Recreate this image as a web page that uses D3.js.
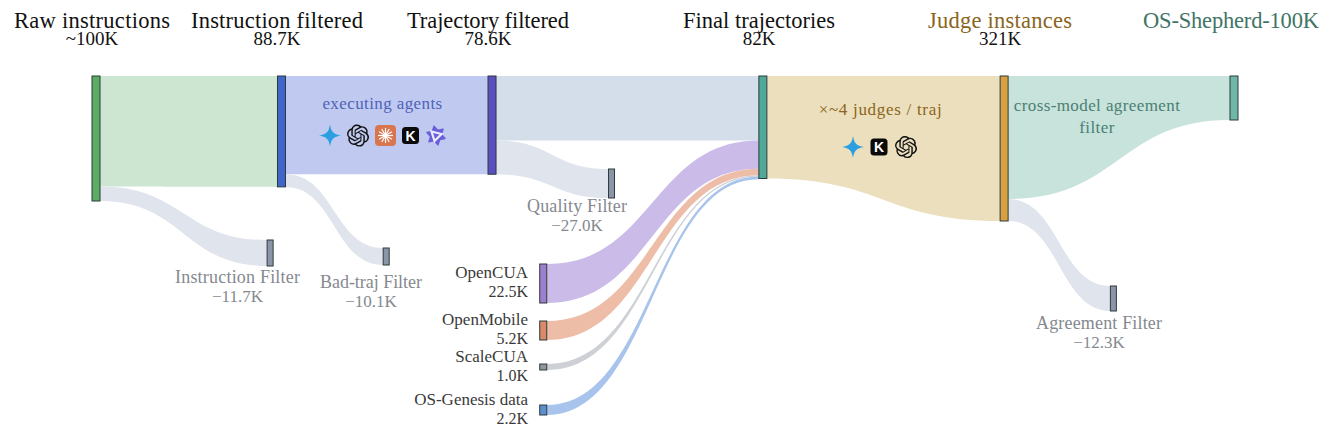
<!DOCTYPE html>
<html>
<head>
<meta charset="utf-8">
<script src="https://cdn.jsdelivr.net/npm/d3@7"></script>
<style>
body { margin: 0; background: #fff; }
text { font-family: "Liberation Serif", serif; }
</style>
</head>
<body>
<div id="canvas"></div>
<script>
// main stages, sizes in K (judge and shepherd are drawn on a squeezed scale like the original)
const stageNames = ["Raw instructions", "Instruction filtered", "Trajectory filtered", "Final trajectories", "Judge instances", "OS-Shepherd-100K"];
const stageCounts = ["~100K", "88.7K", "78.6K", "82K", "321K", ""];
const stageSizes = [100, 88.7, 78.6, 82, 116, 35.2];
const stagePos = [0, 16.3, 34.8, 58.6, 79.8, 100];

// filter drop-offs
const filterNames = ["Instruction Filter", "Bad-traj Filter", "Quality Filter", "Agreement Filter"];
const filterCounts = ["−11.7K", "−10.1K", "−27.0K", "−12.3K"];
const filterFrom = [0, 1, 2, 4];
const filterOut = [11.7, 10.1, 27, 17.6];
const filterSizes = [20.8, 13.6, 23.2, 20];
const filterTops = [131.2, 137.6, 74.4, 168];
const filterPos = [15.3, 25.5, 45.3, 89.4];

// extra data sources feeding final trajectories
const sourceNames = ["OpenCUA", "OpenMobile", "ScaleCUA", "OS-Genesis data"];
const sourceCounts = ["22.5K", "5.2K", "1.0K", "2.2K"];
const sourceValues = [22.5, 5.2, 1.0, 2.2];
const sourceSizes = [31.2, 15.2, 4.8, 8];
const sourceTops = [150.4, 196, 230.4, 263.2];
const sourcePos = 39.3;

const stageColors = ["#5aad62", "#3f66c8", "#5a4fc0", "#4fa898", "#d9a03f", "#6fb8a8"];
const stageLinks = ["#cce6d2", "#c0caf0", "#d4deeb", "#ecdfbd", "#c8e2dc"];
const sourceColors = ["#9b80cf", "#d98a68", "#8f959c", "#5b8fd0"];
const sourceLinks = ["#cbbbe9", "#edbda8", "#cdd0d4", "#a8c4ec"];
const filterColor = "#8a96a8";
const filterLink = "#e0e4ec";

const width = 1326;
const height = 428;
const nodeW = 8;
const smallW = 6;

const svg = d3.select("#canvas").append("svg")
    .attr("width", width)
    .attr("height", height)
    .style("display", "block");

const x = d3.scaleLinear().domain([0, 100]).range([96, 1234]);
const y = d3.scaleLinear().domain([0, 100]).range([76, 201]);
const h = d3.scaleLinear().domain([0, 100]).range([0, 125]);

// ribbon between two vertical edges
function ribbon(x0, t0, b0, x1, t1, b1) {
    const m = (x0 + x1) / 2;
    return `M${x0},${t0}C${m},${t0} ${m},${t1} ${x1},${t1}L${x1},${b1}C${m},${b1} ${m},${b0} ${x0},${b0}Z`;
}

const links = svg.append("g");
const nodes = svg.append("g");
const labels = svg.append("g");

function addLink(d, fill) {
    links.append("path").attr("d", d).attr("fill", fill);
}
function addNode(cx, top, size, w, fill) {
    nodes.append("rect")
        .attr("x", cx - w / 2)
        .attr("y", y(top))
        .attr("width", w)
        .attr("height", h(size))
        .attr("fill", fill)
        .attr("stroke", "#2f3a3a")
        .attr("stroke-width", 1);
}

// stage to stage ribbons, the one into final trajectories only keeps what survived the filter
stageSizes.slice(0, -1).forEach((s, i) => {
    const x0 = x(stagePos[i]) + nodeW / 2;
    const x1 = x(stagePos[i + 1]) - nodeW / 2;
    let leave = s;
    filterFrom.forEach((f, k) => { if (f === i) leave = s - filterOut[k]; });
    if (i === 3) leave = s;
    let arrive = stageSizes[i + 1];
    if (i === 2) arrive = leave;
    addLink(ribbon(x0, y(0), y(leave), x1, y(0), y(arrive)), stageLinks[i]);
});

// filter ribbons
filterFrom.forEach((f, i) => {
    const cx = x(filterPos[i]);
    const bottom = stageSizes[f];
    addLink(ribbon(x(stagePos[f]) + nodeW / 2, y(bottom - filterOut[i]), y(bottom),
        cx - smallW / 2, y(filterTops[i]), y(filterTops[i] + filterSizes[i])), filterLink);
    addNode(cx, filterTops[i], filterSizes[i], smallW, filterColor);
});

// source ribbons stack under the trajectory ribbon on final trajectories
let stack = stageSizes[2] - filterOut[2];
sourceValues.forEach((v, i) => {
    const cx = x(sourcePos);
    addLink(ribbon(cx + 3.5, y(sourceTops[i]), y(sourceTops[i] + sourceSizes[i]),
        x(stagePos[3]) - nodeW / 2, y(stack), y(stack + v)), sourceLinks[i]);
    addNode(cx, sourceTops[i], sourceSizes[i], 7, sourceColors[i]);
    stack += v;
});

stageSizes.forEach((s, i) => addNode(x(stagePos[i]), 0, s, nodeW, stageColors[i]));

// headers
const headColors = ["#111", "#111", "#111", "#111", "#8a6420", "#3f7466"];
const headX = [92, 277, 488, 759, 1000, 1231];
const headW = [156, 172, 162, 152, 144, 176];
stageNames.forEach((n, i) => {
    labels.append("text").attr("x", headX[i]).attr("y", 28)
        .attr("text-anchor", "middle").attr("font-size", 22.5).attr("textLength", headW[i])
        .attr("fill", headColors[i]).text(n);
    labels.append("text").attr("x", headX[i]).attr("y", 45)
        .attr("text-anchor", "middle").attr("font-size", 19).attr("fill", "#111").text(stageCounts[i]);
});

// filter captions
const filterLabelX = [237.5, 371, 577, 1099];
const filterLabelY = [283, 288, 212, 329];
const filterLabelW = [125, 102, 100, 126];
filterNames.forEach((n, i) => {
    labels.append("text").attr("x", filterLabelX[i]).attr("y", filterLabelY[i])
        .attr("text-anchor", "middle").attr("font-size", 18).attr("textLength", filterLabelW[i])
        .attr("fill", "#85898f").text(n);
    labels.append("text").attr("x", filterLabelX[i]).attr("y", filterLabelY[i] + 19)
        .attr("text-anchor", "middle").attr("font-size", 17).attr("fill", "#85898f").text(filterCounts[i]);
});

// source captions
const sourceLabelY = [278, 325, 362, 405];
sourceNames.forEach((n, i) => {
    labels.append("text").attr("x", 528).attr("y", sourceLabelY[i])
        .attr("text-anchor", "end").attr("font-size", 17).attr("fill", "#3a3a3a").text(n);
    labels.append("text").attr("x", 528).attr("y", sourceLabelY[i] + 19)
        .attr("text-anchor", "end").attr("font-size", 16).attr("fill", "#3a3a3a").text(sourceCounts[i]);
});

// text on the ribbons
function note(t, px, py, fill, spacing) {
    labels.append("text").attr("x", px).attr("y", py)
        .attr("text-anchor", "middle").attr("font-size", 17).attr("letter-spacing", spacing)
        .attr("fill", fill).text(t);
}
note("executing agents", 382.5, 109, "#4f62b8", 0.4);
note("×~4 judges / traj", 880.5, 115, "#8a6420", 0.7);
note("cross-model agreement", 1097, 111, "#4a8072", 0.4);
note("filter", 1097, 133, "#4a8072", 0.4);

// model logos
const icons = svg.append("g");
const openaiPath = "M22.2819 9.8211a5.9847 5.9847 0 0 0-.5157-4.9108 6.0462 6.0462 0 0 0-6.5098-2.9A6.0651 6.0651 0 0 0 4.9807 4.1818a5.9847 5.9847 0 0 0-3.9977 2.9 6.0462 6.0462 0 0 0 .7427 7.0966 5.98 5.98 0 0 0 .511 4.9107 6.051 6.051 0 0 0 6.5146 2.9001A5.9847 5.9847 0 0 0 13.2599 24a6.0557 6.0557 0 0 0 5.7718-4.2058 5.9894 5.9894 0 0 0 3.9977-2.9001 6.0557 6.0557 0 0 0-.7475-7.0729zm-9.022 12.6081a4.4755 4.4755 0 0 1-2.8764-1.0408l.1419-.0804 4.7783-2.7582a.7948.7948 0 0 0 .3927-.6813v-6.7369l2.02 1.1686a.071.071 0 0 1 .038.052v5.5826a4.504 4.504 0 0 1-4.4945 4.4944zm-9.6607-4.1254a4.4708 4.4708 0 0 1-.5346-3.0137l.142.0852 4.783 2.7582a.7712.7712 0 0 0 .7806 0l5.8428-3.3685v2.3324a.0804.0804 0 0 1-.0332.0615L9.74 19.9502a4.4992 4.4992 0 0 1-6.1408-1.6464zM2.3408 7.8956a4.485 4.485 0 0 1 2.3655-1.9728V11.6a.7664.7664 0 0 0 .3879.6765l5.8144 3.3543-2.0201 1.1685a.0757.0757 0 0 1-.071 0l-4.8303-2.7865A4.504 4.504 0 0 1 2.3408 7.872zm16.5963 3.8558L13.1038 8.364 15.1192 7.2a.0757.0757 0 0 1 .071 0l4.8303 2.7913a4.4944 4.4944 0 0 1-.6765 8.1042v-5.6772a.79.79 0 0 0-.407-.667zm2.0107-3.0231l-.142-.0852-4.7735-2.7818a.7759.7759 0 0 0-.7854 0L9.409 9.2297V6.8974a.0662.0662 0 0 1 .0284-.0615l4.8303-2.7866a4.4992 4.4992 0 0 1 6.6802 4.66zM8.3065 12.863l-2.02-1.1638a.0804.0804 0 0 1-.038-.0567V6.0742a4.4992 4.4992 0 0 1 7.3757-3.4537l-.142.0805L8.704 5.459a.7948.7948 0 0 0-.3927.6813zm1.0976-2.3654l2.602-1.4998 2.6069 1.4998v2.9994l-2.5974 1.4997-2.6067-1.4997Z";

function gemini(g) {
    g.append("path").attr("d", "M0,-11C1.2,-3.5 3.5,-1.2 11,0C3.5,1.2 1.2,3.5 0,11C-1.2,3.5 -3.5,1.2 -11,0C-3.5,-1.2 -1.2,-3.5 0,-11Z").attr("fill", "#2b9fe0");
}
function openai(g) {
    g.append("path").attr("d", openaiPath).attr("transform", "translate(-11,-11) scale(0.92)").attr("fill", "#111");
}
function claude(g) {
    g.append("rect").attr("x", -10.5).attr("y", -10.5).attr("width", 21).attr("height", 21).attr("rx", 4).attr("fill", "#d9764f");
    d3.range(12).forEach(i => {
        const a = i * Math.PI / 6;
        g.append("line").attr("x1", 0).attr("y1", 0)
            .attr("x2", 7.5 * Math.cos(a)).attr("y2", 7.5 * Math.sin(a))
            .attr("stroke", "#fff").attr("stroke-width", 1.2);
    });
}
function kimi(g) {
    g.append("rect").attr("x", -8.5).attr("y", -8.5).attr("width", 17).attr("height", 17).attr("rx", 3.5).attr("fill", "#0a0a0a");
    g.append("text").attr("text-anchor", "middle").attr("y", 5).attr("font-size", 14).attr("font-weight", "bold")
        .style("font-family", "Liberation Sans").attr("fill", "#fff").text("K");
}
function star(g) {
    // two overlapping triangles with a pale core
    [0, 60].forEach(r => {
        g.append("path").attr("d", "M0,-9.5L8.2,4.75L-8.2,4.75Z")
            .attr("transform", `rotate(${r - 12})`)
            .attr("fill", "#6a5fdc").attr("stroke", "#6a5fdc").attr("stroke-width", 1.5).attr("stroke-linejoin", "round");
    });
    g.append("path").attr("d", "M-4.5,-4L5.5,-1.5L-1.5,5.5Z").attr("fill", "none").attr("stroke", "#eceafc").attr("stroke-width", 2.2);
}
function place(fn, px, py) {
    fn(icons.append("g").attr("transform", `translate(${px},${py})`));
}
const agentLogos = [gemini, openai, claude, kimi, star];
const agentLogoX = [330, 358, 385.5, 410.5, 436];
agentLogos.forEach((fn, i) => place(fn, agentLogoX[i], 135.5));
const judgeLogos = [gemini, kimi, openai];
const judgeLogoX = [853, 879, 906];
judgeLogos.forEach((fn, i) => place(fn, judgeLogoX[i], 147));
</script>
</body>
</html>
